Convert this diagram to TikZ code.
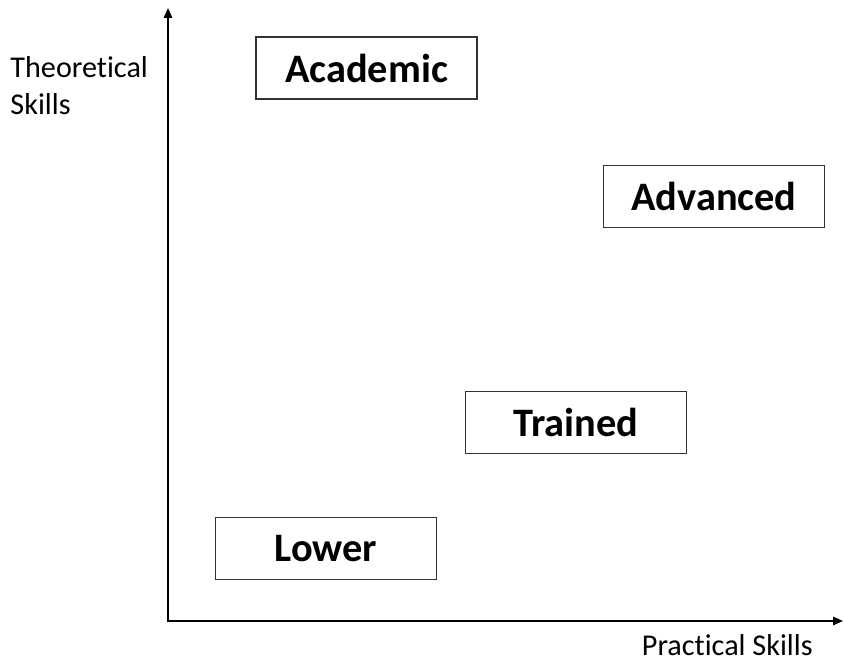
\documentclass[tikz,border=0pt]{standalone}
\usepackage{fontspec}
\setmainfont[Ligatures=NoCommon]{Carlito}
\usetikzlibrary{arrows.meta}

\begin{document}
\begin{tikzpicture}[x=0.5pt,y=-0.5pt,
    level/.style={draw=black!80,line width=0.65pt,minimum width=110.5pt,minimum height=31pt,inner sep=0pt,font=\fontsize{20.2}{24}\selectfont\bfseries},
    axis/.style={line width=0.9pt,{Triangle[length=5pt,width=4.2pt]}-{Triangle[length=5pt,width=4.2pt]}},
    axislabel/.style={inner sep=0pt,font=\fontsize{15.1}{18.5}\selectfont,align=left}]
      \useasboundingbox (0,0) rectangle (844,662);
      \coordinate (top) at (168,8);
      \coordinate (origin) at (168,621);
      \coordinate (right) at (843,621);

      \node[level] (academic) at (366.5,68) {Academic};
      \node[level] (advanced) at (714,196.5) {Advanced};
      \node[level] (trained) at (575.7,422.8) {Trained};
      \node[level] (lower) at (326,548.5) {Lower};

      \node[axislabel,anchor=north west] (theory) at (10,56) {Theoretical\\Skills};
      \node[axislabel,anchor=base west] (practice) at (641.5,655) {Practical Skills};

      \draw[axis] (top) -- (origin) -- (right);
\end{tikzpicture}
\end{document}
